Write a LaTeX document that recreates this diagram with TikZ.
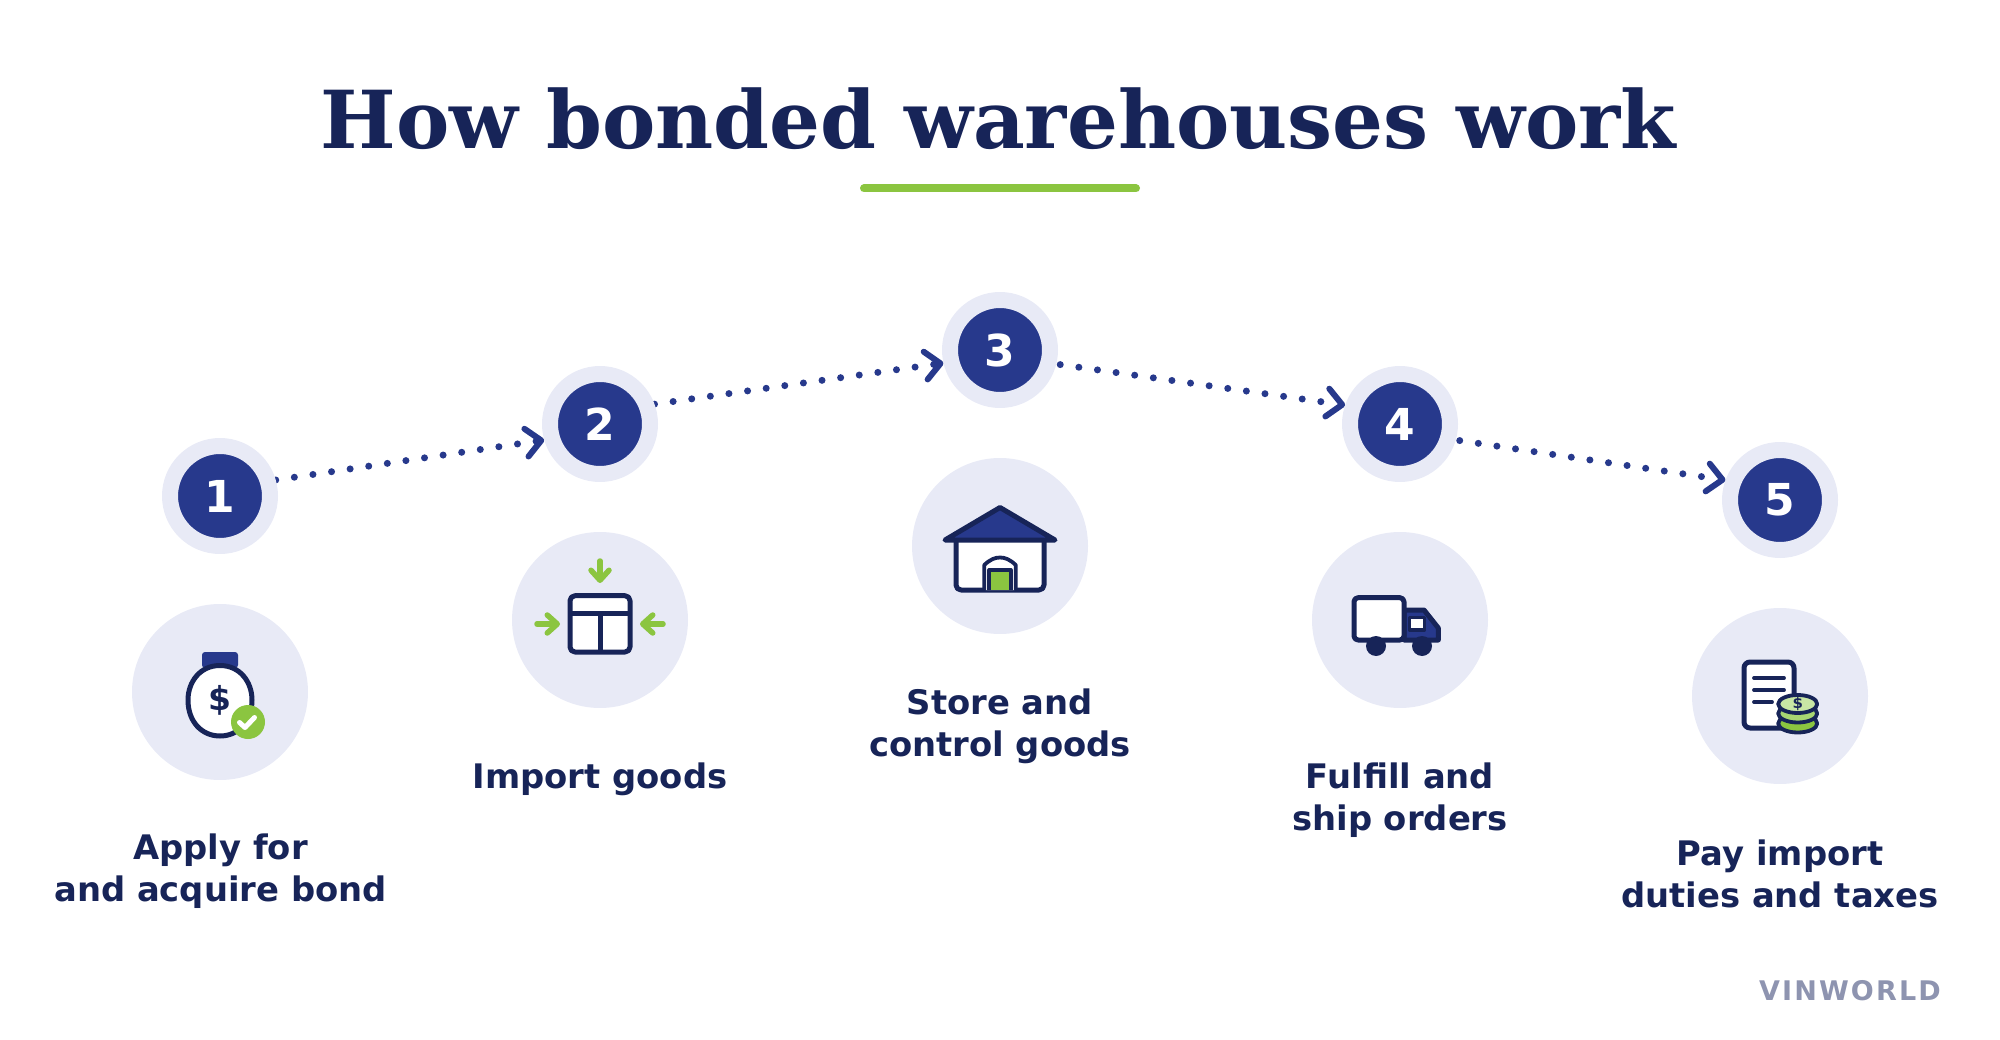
\documentclass[tikz,border=0pt]{standalone}
\usepackage{fontspec}
\setmainfont{DejaVu Sans}
\newfontfamily\titlefont{DejaVu Serif}
\newfontfamily\brandfont[LetterSpace=8]{DejaVu Sans}
\usetikzlibrary{arrows.meta, backgrounds}

\definecolor{navyink}{HTML}{172458}
\definecolor{bluefill}{HTML}{27398C}
\definecolor{palefill}{HTML}{E8EAF6}
\definecolor{leafgreen}{HTML}{8BC540}
\definecolor{midcoin}{HTML}{A8D672}
\definecolor{lightcoin}{HTML}{C8E6A5}
\definecolor{brandgray}{HTML}{8E94B0}

\tikzset{
    numdot/.style={circle, fill=bluefill, draw=palefill, line width=16pt, minimum size=100pt, inner sep=0pt, text=white, font=\fontsize{44}{52}\selectfont\bfseries},
    iconback/.style={circle, fill=palefill, minimum size=176pt, inner sep=0pt},
    steptext/.style={text=navyink, align=center, inner sep=0pt, font=\fontsize{33.8}{42}\selectfont\bfseries},
    hop/.style={bluefill, line width=7pt, line cap=round, dash pattern=on 0pt off 18.8pt, -{Straight Barb[length=15pt, width=28pt, line width=6pt, round]}},
    iconline/.style={draw=navyink, line width=5pt, line join=round, line cap=round},
    thinline/.style={draw=navyink, line width=3.8pt, line join=round, line cap=round},
    inarrow/.style={leafgreen, line width=5.5pt, line cap=round, -{Straight Barb[length=10pt, width=18pt, line width=5.5pt, round]}}
}

\begin{document}
\begin{tikzpicture}[x=1pt, y=-1pt]
    \useasboundingbox (0,0) rectangle (2000,1040);

    % Title
    \node[anchor=base, text=navyink, inner sep=0pt, font=\fontsize{80}{96}\selectfont\titlefont\bfseries] (title) at (998.5,149) {How bonded warehouses work};
    \draw[leafgreen, line width=8pt, line cap=round] (864,188.5) to (1136,188.5);

    % Number circles
    \node[numdot] (num1) at (220,496) {1};
    \node[numdot] (num2) at (600,424) {2};
    \node[numdot] (num3) at (1000,350) {3};
    \node[numdot] (num4) at (1400,424) {4};
    \node[numdot] (num5) at (1780,500) {5};

    % Icon circles
    \node[iconback] (back1) at (220,692) {};
    \node[iconback] (back2) at (600,620) {};
    \node[iconback] (back3) at (1000,546) {};
    \node[iconback] (back4) at (1400,620) {};
    \node[iconback] (back5) at (1780,696) {};

    % Connections
    \begin{scope}[on background layer]
        \draw[hop] (num1.16) to (num2.196);
        \draw[hop] (num2.20) to (num3.193);
        \draw[hop, dash phase=14.8pt] (num3.-14) to (num4.161);
        \draw[hop, dash phase=14.8pt] (num4.-16) to (num5.160);
    \end{scope}

    % Money bag
    \draw[fill=bluefill, draw=none, rounded corners=3pt] (202,652) rectangle (238,668);
    \draw[iconline, fill=white] (220,665.5) .. controls (240,665.5) and (252,682) .. (252,700) .. controls (252,722) and (238,736) .. (220,736) .. controls (202,736) and (188,722) .. (188,700) .. controls (188,682) and (200,665.5) .. (220,665.5) -- cycle;
    \node[text=navyink, inner sep=0pt, font=\fontsize{33}{38}\selectfont\bfseries] (bagsign) at (220,700) {\$};
    \node[circle, fill=leafgreen, minimum size=34pt, inner sep=0pt] (bagcheck) at (248,722) {};
    \draw[white, line width=5pt, line cap=round, line join=round] (239.5,722.5) to (245,727.5) to (254.5,717.5);

    % Crate with arrows
    \draw[iconline, fill=white, rounded corners=5pt] (570,595.7) rectangle (630,652);
    \draw[iconline, line cap=butt] (570,613.7) to (630,613.7);
    \draw[iconline, line cap=butt] (600,613.7) to (600,652);
    \draw[inarrow] (600,561) to (600,583);
    \draw[inarrow] (537,624) to (560,624);
    \draw[inarrow] (663,624) to (640,624);

    % Warehouse
    \draw[iconline, fill=white, rounded corners=5pt] (956,540) to (956,590) to (1044,590) to (1044,540);
    \draw[thinline, fill=white] (984.3,590) to (984.3,565) .. controls (990,559.5) and (995,557.5) .. (1000,557.5) .. controls (1005,557.5) and (1010,559.5) .. (1015.7,565) to (1015.7,590);
    \draw[thinline, fill=leafgreen, line cap=butt] (989.3,590) to (989.3,570) to (1010.7,570) to (1010.7,590);
    \draw[iconline, fill=bluefill] (1000,507.5) to (1055,540) to (945,540) -- cycle;

    % Truck
    \draw[iconline, fill=bluefill] (1404,610) to (1424,610) to (1438.3,628) to (1438.3,640) to (1404,640) -- cycle;
    \draw[iconline, fill=white, rounded corners=4pt] (1354,597.7) rectangle (1404,640);
    \draw[thinline, fill=white] (1409.5,617.5) rectangle (1424.5,630);
    \fill[navyink] (1376,646) circle (10);
    \fill[navyink] (1422,646) circle (10);

    % Invoice with coins
    \draw[iconline, fill=white, rounded corners=6pt] (1744,662) rectangle (1794,728);
    \draw[thinline] (1754,678) to (1784,678);
    \draw[thinline] (1754,690) to (1784,690);
    \draw[thinline] (1754,702) to (1772,702);
    \draw[thinline, fill=leafgreen] (1797.7,723.5) ellipse (19.5 and 9);
    \draw[thinline, fill=midcoin] (1797.7,713.5) ellipse (19.5 and 9);
    \draw[thinline, fill=lightcoin] (1797.7,704) ellipse (19.5 and 9);
    \node[text=navyink, inner sep=0pt, font=\fontsize{15}{18}\selectfont\bfseries] (coinsign) at (1797.7,704) {\$};

    % Step labels
    \node[steptext] (label1) at (220.5,871.5) {Apply for\\and acquire bond};
    \node[steptext] (label2) at (600,779.5) {Import goods};
    \node[steptext] (label3) at (1000,726.5) {Store and\\control goods};
    \node[steptext] (label4) at (1400,800.5) {Fulfill and\\ship orders};
    \node[steptext] (label5) at (1780,874) {Pay import\\duties and taxes};

    % Brand
    \node[anchor=base east, text=brandgray, inner sep=0pt, font=\fontsize{27}{32}\selectfont\brandfont\bfseries] (brand) at (1941,1000) {VINWORLD};
\end{tikzpicture}
\end{document}
